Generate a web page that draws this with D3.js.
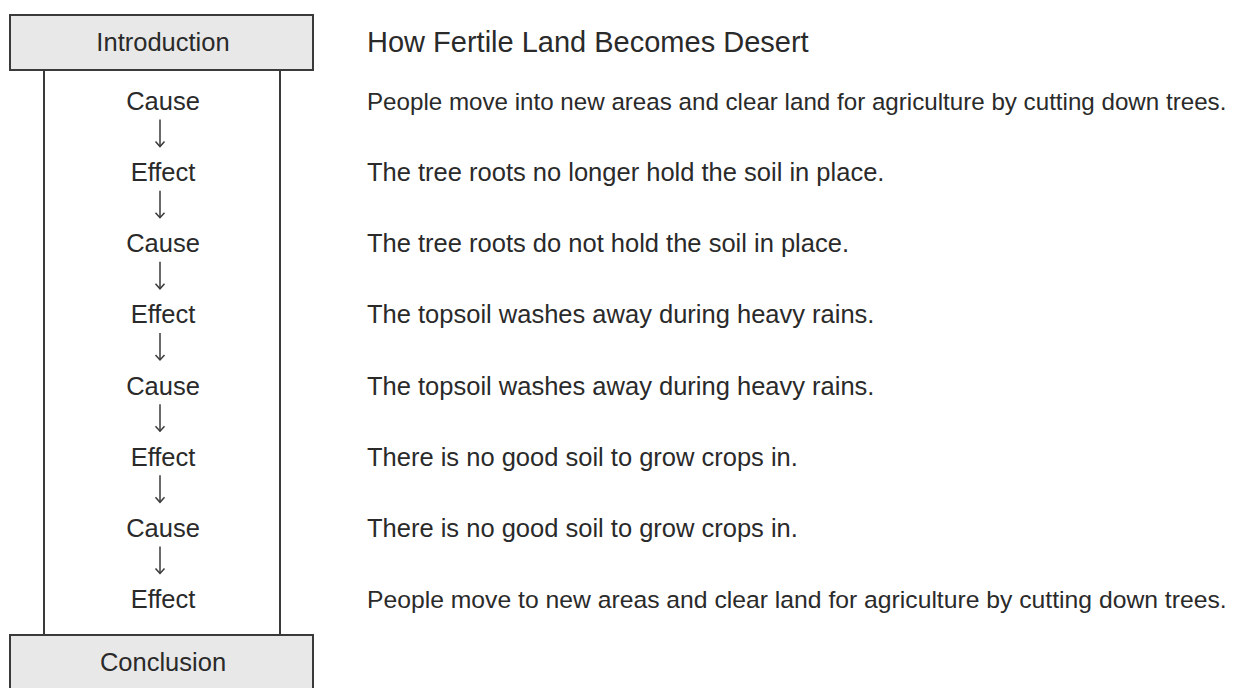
<!DOCTYPE html>
<html>
<head>
<meta charset="utf-8">
<script src="https://cdn.jsdelivr.net/npm/d3@7"></script>
<style>
  body { margin: 0; background: #fff; }
  text { font-family: "Liberation Sans", Arial, sans-serif; fill: #2a2a2a; }
</style>
</head>
<body>
<script>
const title = "How Fertile Land Becomes Desert";
const topLabel = "Introduction";
const bottomLabel = "Conclusion";
const steps = ["Cause", "Effect", "Cause", "Effect", "Cause", "Effect", "Cause", "Effect"];
const sentences = [
  "People move into new areas and clear land for agriculture by cutting down trees.",
  "The tree roots no longer hold the soil in place.",
  "The tree roots do not hold the soil in place.",
  "The topsoil washes away during heavy rains.",
  "The topsoil washes away during heavy rains.",
  "There is no good soil to grow crops in.",
  "There is no good soil to grow crops in.",
  "People move to new areas and clear land for agriculture by cutting down trees."
];

const w = 1248;
const h = 688;
const svg = d3.select("body")
  .append("svg")
  .attr("width", w)
  .attr("height", h);

// row positions for the steps
const y = d3.scaleLinear()
  .domain([0, steps.length - 1])
  .range([101, 599]);

const boxX = 10, boxW = 303, boxH = 55;
const innerL = 44, innerR = 280;
const midX = 163;
const textX = 367;
const maxTextW = 860;
const sentenceSize = 25.5;

// inner frame (side lines)
svg.append("line")
  .attr("x1", innerL).attr("x2", innerL)
  .attr("y1", 70).attr("y2", 635)
  .attr("stroke", "#3a3a3a").attr("stroke-width", 2);
svg.append("line")
  .attr("x1", innerR).attr("x2", innerR)
  .attr("y1", 70).attr("y2", 635)
  .attr("stroke", "#3a3a3a").attr("stroke-width", 2);

// top and bottom boxes
const boxes = [
  {label: topLabel, top: 15},
  {label: bottomLabel, top: 635}
];
svg.selectAll("rect.box")
  .data(boxes)
  .enter()
  .append("rect")
  .attr("class", "box")
  .attr("x", boxX)
  .attr("y", function(d) { return d.top; })
  .attr("width", boxW)
  .attr("height", boxH)
  .attr("fill", "#e8e8e8")
  .attr("stroke", "#3a3a3a")
  .attr("stroke-width", 2);

svg.selectAll("text.boxlabel")
  .data(boxes)
  .enter()
  .append("text")
  .attr("class", "boxlabel")
  .attr("x", midX)
  .attr("y", function(d) { return d.top + 27; })
  .attr("text-anchor", "middle")
  .attr("dominant-baseline", "central")
  .attr("font-size", "25.5px")
  .text(function(d) { return d.label; });

// step labels
svg.selectAll("text.step")
  .data(steps)
  .enter()
  .append("text")
  .attr("class", "step")
  .attr("x", midX)
  .attr("y", function(d, i) { return y(i); })
  .attr("text-anchor", "middle")
  .attr("dominant-baseline", "central")
  .attr("font-size", "25.5px")
  .text(function(d) { return d; });

// arrows between steps
const gaps = d3.range(steps.length - 1);
const arrows = svg.selectAll("g.arrow")
  .data(gaps)
  .enter()
  .append("g")
  .attr("class", "arrow")
  .attr("transform", function(i) { return "translate(" + (midX - 3) + "," + (y(i) + y(i + 1)) / 2 + ")"; });
arrows.append("line")
  .attr("x1", 0).attr("x2", 0)
  .attr("y1", -17).attr("y2", 10)
  .attr("stroke", "#3a3a3a").attr("stroke-width", 1.5);
arrows.append("path")
  .attr("d", "M-4.5,5 L0,10 L4.5,5")
  .attr("fill", "none")
  .attr("stroke", "#3a3a3a").attr("stroke-width", 1.5);

// title and sentences
svg.append("text")
  .attr("x", textX)
  .attr("y", 42)
  .attr("dominant-baseline", "central")
  .attr("font-size", "29px")
  .text(title);

svg.selectAll("text.sentence")
  .data(sentences)
  .enter()
  .append("text")
  .attr("class", "sentence")
  .attr("x", textX)
  .attr("y", function(d, i) { return y(i); })
  .attr("dominant-baseline", "central")
  .attr("font-size", sentenceSize + "px")
  .text(function(d) { return d; })
  .each(function() {
    // shrink the long lines so they fit the page width
    const len = this.getComputedTextLength();
    if (len > maxTextW) {
      d3.select(this).attr("font-size", (sentenceSize * maxTextW / len).toFixed(2) + "px");
    }
  });
</script>
</body>
</html>
